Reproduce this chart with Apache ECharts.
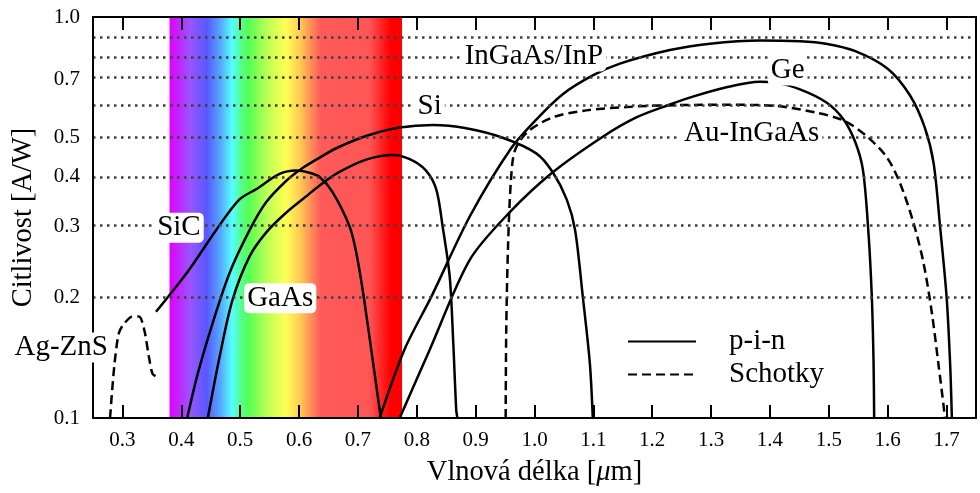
<!DOCTYPE html>
<html>
<head>
<meta charset="utf-8">
<script src="https://cdn.jsdelivr.net/npm/echarts@6/dist/echarts.min.js"></script>
<style>
  html, body { margin: 0; padding: 0; background: #fff; }
  #chart { width: 980px; height: 493px; }
</style>
</head>
<body>
<div id="chart"></div>
<script>
// Axis ticks and grid levels
const X_TICKS = [0.3, 0.4, 0.5, 0.6, 0.7, 0.8, 0.9, 1.0, 1.1, 1.2, 1.3, 1.4, 1.5, 1.6, 1.7];
const Y_LABELS = [0.1, 0.2, 0.3, 0.4, 0.5, 0.7, 1.0];
const Y_GRID = [0.2, 0.3, 0.4, 0.5, 0.6, 0.7, 0.8, 0.9];

// Visible band of the spectrum [µm]
const VISIBLE_BAND = [0.38, 0.775];

// Spectral responsivity curves: [wavelength µm, responsivity A/W]
const AG_ZNS = [[0.279, 0.100], [0.286, 0.134], [0.294, 0.163], [0.303, 0.172], [0.317, 0.179],
  [0.328, 0.179], [0.337, 0.166], [0.345, 0.142], [0.351, 0.129], [0.357, 0.127]];

const SIC = [[0.357, 0.184], [0.413, 0.234], [0.459, 0.294], [0.498, 0.350], [0.527, 0.372],
  [0.567, 0.406], [0.595, 0.414], [0.618, 0.409], [0.635, 0.399], [0.657, 0.366], [0.686, 0.300],
  [0.698, 0.255], [0.710, 0.200], [0.725, 0.140], [0.739, 0.100]];

const SI = [[0.410, 0.100], [0.428, 0.129], [0.453, 0.172], [0.482, 0.230], [0.516, 0.294],
  [0.544, 0.345], [0.578, 0.390], [0.606, 0.420], [0.635, 0.446], [0.665, 0.472], [0.714, 0.505],
  [0.771, 0.530], [0.827, 0.538], [0.884, 0.528], [0.946, 0.500], [1.003, 0.457],
  [1.031, 0.410], [1.055, 0.350], [1.069, 0.294], [1.082, 0.201], [1.094, 0.137], [1.099, 0.100]];

const GAAS = [[0.445, 0.100], [0.465, 0.142], [0.487, 0.197], [0.516, 0.253], [0.544, 0.290],
  [0.578, 0.325], [0.612, 0.357], [0.635, 0.380], [0.665, 0.408], [0.714, 0.441], [0.759, 0.453],
  [0.788, 0.442], [0.815, 0.415], [0.833, 0.372], [0.844, 0.300], [0.856, 0.225], [0.862, 0.154],
  [0.867, 0.105], [0.869, 0.100]];

const INGAAS_INP = [[0.737, 0.100], [0.779, 0.148], [0.825, 0.201], [0.890, 0.318], [0.960, 0.470],
  [1.003, 0.555], [1.048, 0.642], [1.099, 0.715], [1.145, 0.765], [1.230, 0.827], [1.298, 0.858],
  [1.383, 0.874], [1.451, 0.870], [1.495, 0.858], [1.545, 0.822], [1.600, 0.743], [1.638, 0.637],
  [1.663, 0.530], [1.678, 0.432], [1.689, 0.300], [1.700, 0.201], [1.706, 0.137], [1.709, 0.100]];

const GE = [[0.771, 0.100], [0.822, 0.148], [0.890, 0.248], [0.958, 0.326], [1.031, 0.410],
  [1.116, 0.503], [1.173, 0.562], [1.230, 0.605], [1.269, 0.633], [1.326, 0.668], [1.383, 0.689],
  [1.411, 0.685], [1.451, 0.660], [1.496, 0.612], [1.525, 0.555], [1.545, 0.487], [1.558, 0.415],
  [1.567, 0.294], [1.573, 0.201], [1.576, 0.137], [1.577, 0.100]];

const AU_INGAAS = [[0.951, 0.100], [0.952, 0.166], [0.955, 0.267], [0.960, 0.392], [0.967, 0.466],
  [0.989, 0.518], [1.031, 0.562], [1.088, 0.585], [1.170, 0.598], [1.250, 0.603], [1.330, 0.604],
  [1.411, 0.600], [1.479, 0.577], [1.525, 0.552], [1.564, 0.505], [1.598, 0.448], [1.621, 0.385],
  [1.644, 0.306], [1.661, 0.243], [1.675, 0.183], [1.686, 0.137], [1.695, 0.107], [1.697, 0.100]];

// Curve annotations: [text, wavelength µm, responsivity A/W]
const CURVE_LABELS = [
  ['SiC', 0.396, 0.298],
  ['GaAs', 0.568, 0.199],
  ['Si', 0.822, 0.597],
  ['InGaAs/InP', 0.999, 0.797],
  ['Ge', 1.430, 0.735],
  ['Au-InGaAs', 1.369, 0.512],
  ['Ag-ZnS', 0.196, 0.150]
];

const FONT = '"Liberation Serif", "DejaVu Serif", serif';
const lg = v => Math.log10(v);
const toXY = arr => arr.map(([w, r]) => [w, lg(r)]);

const chart = echarts.init(document.getElementById('chart'), null, { renderer: 'canvas' });

function curve(name, data, dashed) {
  return {
    name: name,
    type: 'line',
    data: toXY(data),
    z: 4,
    smooth: 0.3,
    showSymbol: false,
    symbol: 'none',
    silent: true,
    lineStyle: { color: '#000', width: 2.5, type: dashed ? [9, 5] : 'solid' }
  };
}

const spectrumGradient = new echarts.graphic.LinearGradient(0, 0, 1, 0, [
  { offset: 0.00, color: '#e000ff' },
  { offset: 0.09, color: '#9955ff' },
  { offset: 0.16, color: '#5858ff' },
  { offset: 0.22, color: '#55aaff' },
  { offset: 0.27, color: '#55ffff' },
  { offset: 0.31, color: '#55ff88' },
  { offset: 0.34, color: '#55ff55' },
  { offset: 0.42, color: '#bbff55' },
  { offset: 0.50, color: '#ffff55' },
  { offset: 0.56, color: '#ffcc55' },
  { offset: 0.65, color: '#ff5a5a' },
  { offset: 0.86, color: '#ff5555' },
  { offset: 0.95, color: '#ff0000' },
  { offset: 1.00, color: '#ff0000' }
]);

const option = {
  animation: false,
  backgroundColor: '#fff',
  textStyle: { fontFamily: FONT, color: '#000' },
  grid: { left: 93, right: 4, top: 17, bottom: 75, containLabel: false },
  legend: {
    data: ['p-i-n', 'Schotky'],
    orient: 'vertical',
    left: 622,
    top: 322,
    itemWidth: 68,
    itemHeight: 14,
    itemGap: 4,
    selectedMode: false,
    itemStyle: { opacity: 0, borderWidth: 0 },
    textStyle: { fontFamily: FONT, fontSize: 29, color: '#000', padding: [0, 0, 0, 28] }
  },
  xAxis: [
    {
      type: 'value', position: 'bottom', min: 0.25, max: 1.75, z: 6,
      name: 'Vlnová délka [{i|μ}m]',
      nameLocation: 'middle', nameGap: 40,
      nameTextStyle: { fontFamily: FONT, fontSize: 28.5, color: '#000',
        rich: { i: { fontFamily: FONT, fontSize: 28.5, fontStyle: 'italic', color: '#000' } } },
      axisLine: { show: true, onZero: false, lineStyle: { color: '#000', width: 2 } },
      axisTick: { show: true, inside: true, length: 13, customValues: X_TICKS, lineStyle: { color: '#000', width: 2 } },
      axisLabel: { show: true, customValues: X_TICKS, margin: 12, fontFamily: FONT, fontSize: 21, color: '#000',
        formatter: v => v.toFixed(1) },
      splitLine: { show: false }
    },
    {
      type: 'value', position: 'top', min: 0.25, max: 1.75, z: 6,
      axisLine: { show: true, onZero: false, lineStyle: { color: '#000', width: 2 } },
      axisTick: { show: true, inside: true, length: 13, customValues: X_TICKS, lineStyle: { color: '#000', width: 2 } },
      axisLabel: { show: false },
      splitLine: { show: false }
    }
  ],
  yAxis: [
    {
      type: 'value', position: 'left', min: -1, max: 0, z: 6,
      name: 'Citlivost [A/W]',
      nameLocation: 'middle', nameGap: 55, nameRotate: 90,
      nameTextStyle: { fontFamily: FONT, fontSize: 28.5, color: '#000' },
      axisLine: { show: true, onZero: false, lineStyle: { color: '#000', width: 2 } },
      axisTick: { show: false },
      axisLabel: { show: true, customValues: Y_LABELS.map(lg), margin: 13, fontFamily: FONT, fontSize: 21, color: '#000',
        formatter: v => Math.pow(10, v).toFixed(1) },
      splitLine: { show: false }
    },
    {
      type: 'value', position: 'right', min: -1, max: 0, z: 6,
      axisLine: { show: true, onZero: false, lineStyle: { color: '#000', width: 2 } },
      axisTick: { show: false },
      axisLabel: { show: false },
      splitLine: { show: false }
    }
  ],
  series: [
    {
      // visible spectrum band
      name: 'spectrum', type: 'line', data: [], z: 1, silent: true,
      markArea: {
        silent: true,
        itemStyle: { color: spectrumGradient, opacity: 1 },
        data: [[{ xAxis: VISIBLE_BAND[0] }, { xAxis: VISIBLE_BAND[1] }]]
      }
    },
    {
      // dotted horizontal grid
      name: 'grid', type: 'line', data: [], z: 2, silent: true,
      markLine: {
        silent: true, symbol: 'none', label: { show: false },
        lineStyle: { color: '#404040', width: 2.5, type: [2.5, 4.5], opacity: 1 },
        emphasis: { disabled: true },
        data: Y_GRID.map(v => ({ yAxis: lg(v) }))
      }
    },
    curve('Ag-ZnS', AG_ZNS, true),
    curve('SiC', SIC, false),
    curve('Si', SI, false),
    curve('GaAs', GAAS, false),
    curve('InGaAs/InP', INGAAS_INP, false),
    curve('Ge', GE, false),
    curve('Au-InGaAs', AU_INGAAS, true),
    {
      name: 'labels', type: 'scatter', z: 8, clip: false, silent: true,
      symbolSize: 0,
      itemStyle: { opacity: 1 },
      data: CURVE_LABELS.map(([t, w, r]) => ({ name: t, value: [w, lg(r)] })),
      label: {
        show: true, position: 'inside', formatter: p => p.name,
        fontFamily: FONT, fontSize: 29, color: '#000', opacity: 1,
        textBorderWidth: 0,
        backgroundColor: '#fff', borderRadius: 5, padding: [1, 3, 0, 3]
      }
    },
    { name: 'p-i-n', type: 'line', data: [], symbol: 'none', lineStyle: { color: '#000', width: 2.5, type: 'solid' }, itemStyle: { color: '#000' } },
    { name: 'Schotky', type: 'line', data: [], symbol: 'none', lineStyle: { color: '#000', width: 2.5, type: [9, 5] }, itemStyle: { color: '#000' } }
  ]
};

chart.setOption(option);
</script>
</body>
</html>
